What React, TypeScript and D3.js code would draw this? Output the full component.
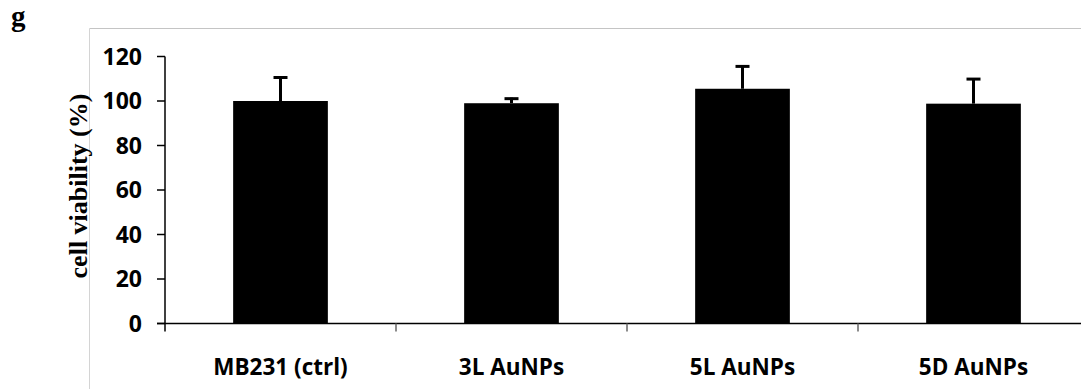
import React from "react";
import * as d3 from "d3";

const categories = ["MB231 (ctrl)", "3L AuNPs", "5L AuNPs", "5D AuNPs"];
const values = [100, 99, 105.5, 98.8];
const errors = [11, 2.5, 10.5, 11.5];
const yTicks = [0, 20, 40, 60, 80, 100, 120];

const W = 1081;
const H = 389;

export default function App() {
  const x = d3
    .scaleBand<string>()
    .domain(categories)
    .range([165, 1089])
    .paddingInner(0.59)
    .paddingOuter(0.295);
  const y = d3.scaleLinear().domain([0, 120]).range([323.5, 56.5]);
  const step = x.step();
  const tickFont = "'Open Sans', sans-serif";

  return (
    <svg
      width={W}
      height={H}
      style={{ position: "absolute", left: 0, top: 0, background: "#fff" }}
    >
      {/* chart frame */}
      <line x1={89.5} y1={28.5} x2={W} y2={28.5} stroke="#c4c4c4" strokeWidth={1.2} />
      <line x1={89.5} y1={28.5} x2={89.5} y2={H} stroke="#d4d4d4" strokeWidth={1} />

      {/* panel letter */}
      <text
        x={11}
        y={26}
        fontFamily="'Liberation Serif', serif"
        fontWeight="bold"
        fontSize={29}
        fill="#000"
      >
        g
      </text>

      {/* y title */}
      <text
        transform={`translate(87, ${186}) rotate(-90)`}
        textAnchor="middle"
        fontFamily="'Liberation Serif', serif"
        fontWeight="bold"
        fontSize={26}
        fill="#000"
      >
        cell viability (%)
      </text>

      {/* bars */}
      {categories.map((c, i) => (
        <rect
          key={c}
          x={x(c)}
          y={y(values[i])}
          width={x.bandwidth()}
          height={y(0) - y(values[i])}
          fill="#000"
        />
      ))}

      {/* error bars */}
      {categories.map((c, i) => {
        const cx = (x(c) as number) + x.bandwidth() / 2;
        const top = y(values[i] + errors[i]);
        return (
          <g key={c + "e"} stroke="#000">
            <line x1={cx} x2={cx} y1={y(values[i])} y2={top} strokeWidth={3} />
            <line x1={cx - 7} x2={cx + 7} y1={top + 1} y2={top + 1} strokeWidth={3} />
          </g>
        );
      })}

      {/* y axis */}
      <line x1={165} x2={165} y1={y(120)} y2={y(0) + 8} stroke="#000" strokeWidth={1.5} />
      {yTicks.map((t) => (
        <g key={t}>
          <line x1={157} x2={165} y1={y(t)} y2={y(t)} stroke="#000" strokeWidth={1.5} />
          <text
            x={142}
            y={y(t)}
            dy="0.36em"
            textAnchor="end"
            fontFamily={tickFont}
            fontWeight="bold"
            fontSize={23}
            fill="#000"
          >
            {t}
          </text>
        </g>
      ))}

      {/* x axis */}
      <line x1={157} x2={W} y1={y(0)} y2={y(0)} stroke="#000" strokeWidth={1.5} />
      {categories.map((c, i) => (
        <line
          key={c + "t"}
          x1={165 + step * (i + 1)}
          x2={165 + step * (i + 1)}
          y1={y(0)}
          y2={y(0) + 8}
          stroke="#666"
          strokeWidth={1.5}
        />
      ))}
      {categories.map((c) => (
        <text
          key={c + "l"}
          x={(x(c) as number) + x.bandwidth() / 2}
          y={375}
          textAnchor="middle"
          fontFamily={tickFont}
          fontWeight="bold"
          fontSize={22.5}
          fill="#000"
        >
          {c}
        </text>
      ))}
    </svg>
  );
}
